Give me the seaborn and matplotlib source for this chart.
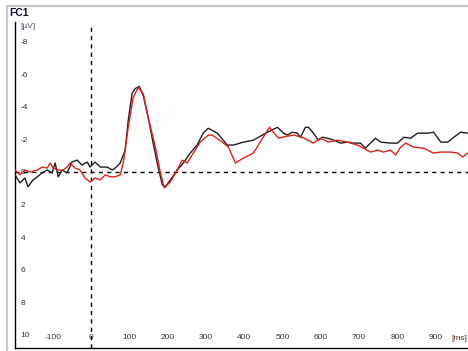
import matplotlib
matplotlib.use("Agg")
import matplotlib.pyplot as plt
from matplotlib.lines import Line2D
from matplotlib.ticker import MultipleLocator
import seaborn as sns
import pandas as pd

# ---- data (time in ms, amplitude in µV; negative plotted up) ----
black_t = [-199, -186, -173, -165, -152, -141, -128, -115, -102, -94, -86, -76, -63, -50, -37, -24,
           -10, -3, 10, 24, 42, 55, 63, 76, 89, 97, 107, 115, 126, 136, 149, 162, 175, 186, 194,
           207, 225, 241, 259, 277, 293, 306, 330, 356, 372, 398, 424, 461, 487, 503, 513, 526,
           539, 547, 560, 568, 581, 594, 605, 618, 634, 652, 670, 686, 704, 717, 730, 743, 757,
           783, 801, 817, 835, 853, 880, 895, 914, 932, 948, 966, 984]
black_v = [0.18, 0.67, 0.37, 0.91, 0.49, 0.30, 0.06, -0.12, 0.06, -0.55, 0.30, -0.12, 0.06, -0.61,
           -0.73, -0.43, -0.61, -0.30, -0.61, -0.30, -0.30, -0.12, -0.24, -0.55, -1.34, -3.17,
           -4.82, -5.12, -5.24, -4.70, -3.35, -1.77, -0.30, 0.79, 0.91, 0.49, -0.12, -0.55, -1.16,
           -1.65, -2.38, -2.68, -2.38, -1.65, -1.65, -1.83, -1.95, -2.44, -2.74, -2.38, -2.26,
           -2.44, -2.38, -2.13, -2.74, -2.74, -2.38, -1.95, -2.13, -2.07, -1.95, -1.77, -1.83,
           -1.77, -1.77, -1.46, -1.77, -2.07, -1.83, -1.77, -1.77, -2.13, -2.07, -2.38, -2.38,
           -2.44, -1.83, -1.83, -2.13, -2.44, -2.38]

red_t = [-199, -186, -173, -160, -141, -128, -115, -107, -99, -86, -73, -63, -55, -42, -29, -16,
         -3, 10, 24, 37, 50, 63, 76, 84, 97, 110, 123, 136, 149, 168, 181, 191, 207, 225, 238,
         251, 267, 285, 306, 317, 346, 359, 377, 398, 424, 442, 466, 490, 513, 531, 557, 581,
         599, 620, 644, 670, 696, 712, 730, 749, 764, 783, 796, 809, 822, 843, 869, 895, 914,
         940, 958, 971, 984]
red_v = [-0.12, 0.18, -0.12, 0.00, -0.12, -0.30, -0.24, -0.55, -0.24, -0.12, -0.12, -0.30, -0.55,
         -0.24, -0.12, 0.37, 0.61, 0.37, 0.49, 0.18, 0.30, 0.30, 0.18, -0.55, -2.75, -4.57,
         -5.18, -4.82, -3.35, -1.52, 0.06, 0.98, 0.61, -0.12, -0.73, -0.55, -1.16, -1.83, -2.26,
         -2.26, -1.77, -1.52, -0.55, -0.85, -1.16, -1.83, -2.74, -2.07, -2.20, -2.26, -2.07,
         -1.77, -2.07, -1.83, -1.95, -1.83, -1.65, -1.46, -1.22, -1.34, -1.22, -1.34, -1.04,
         -1.52, -1.77, -1.52, -1.46, -1.16, -1.22, -1.22, -1.16, -0.91, -1.16]

y_ticks = [-8, -6, -4, -2, 0, 2, 4, 6, 8, 10]
x_ticks = [-100, 0, 100, 200, 300, 400, 500, 600, 700, 800, 900]

df_black = pd.DataFrame({"time": black_t, "amp": black_v})
df_red = pd.DataFrame({"time": red_t, "amp": red_v})

sns.set_style("white")
plt.rcParams["font.family"] = ["Liberation Sans", "DejaVu Sans"]

W, H = 468, 351
fig = plt.figure(figsize=(W / 100, H / 100), dpi=100)
ax = fig.add_axes([15 / W, 3 / H, 1 - 15 / W, (348 - 22) / H])

# reference lines
ax.axhline(0, color="black", lw=1.0, ls=(0, (3, 3)), zorder=1)
ax.axvline(0, color="black", lw=1.0, ls=(0, (3, 3)), ymax=(10.8 + 8.95) / (10.8 + 9.2), zorder=1)

sns.lineplot(data=df_black, x="time", y="amp", ax=ax, color="#1e1e1e", lw=1.0, zorder=3)
sns.lineplot(data=df_red, x="time", y="amp", ax=ax, color="#e0201c", lw=1.0, zorder=4)

ax.set_xlim(-199, 985)
ax.set_ylim(10.8, -9.2)

for s in ["top", "right"]:
    ax.spines[s].set_visible(False)
for s in ["left", "bottom"]:
    ax.spines[s].set_color("black")
    ax.spines[s].set_linewidth(1.0)

ax.set_xlabel("")
ax.set_ylabel("")

ax.set_yticks(y_ticks)
ax.set_yticklabels([str(v) for v in y_ticks])
ax.yaxis.set_minor_locator(MultipleLocator(1))
ax.tick_params(axis="y", which="major", direction="in", length=3, width=1, pad=-4,
               labelsize=6, colors="black", labelcolor="#333333")
ax.tick_params(axis="y", which="minor", direction="in", length=2, width=1)
for lab in ax.get_yticklabels():
    lab.set_horizontalalignment("left")

ax.set_xticks(x_ticks)
ax.set_xticklabels([str(v) for v in x_ticks])
ax.xaxis.set_minor_locator(MultipleLocator(10))
ax.tick_params(axis="x", which="major", direction="in", length=3, width=1, pad=-10,
               labelsize=6, labelcolor="#333333")
ax.tick_params(axis="x", which="minor", direction="in", length=1.5, width=0.8)

fig.text(20 / W, 1 - 27 / H, "[µV]", fontsize=6, color="#445566", ha="left", va="center")
fig.text(451 / W, 1 - 338 / H, "[ms]", fontsize=6, color="#553322", ha="left", va="center")
fig.text(9 / W, 1 - 13 / H, "FC1", fontsize=7.5, fontweight="bold", color="#111133",
         ha="left", va="center")

# light gray frame
fig.add_artist(Line2D([7 / W, 1], [1 - 5.5 / H, 1 - 5.5 / H], color="#c8c8c8", lw=1.5,
                      transform=fig.transFigure))
fig.add_artist(Line2D([7 / W, 7 / W], [0, 1 - 5.5 / H], color="#c8c8c8", lw=1.5,
                      transform=fig.transFigure))

fig.savefig("out.png", dpi=100)
